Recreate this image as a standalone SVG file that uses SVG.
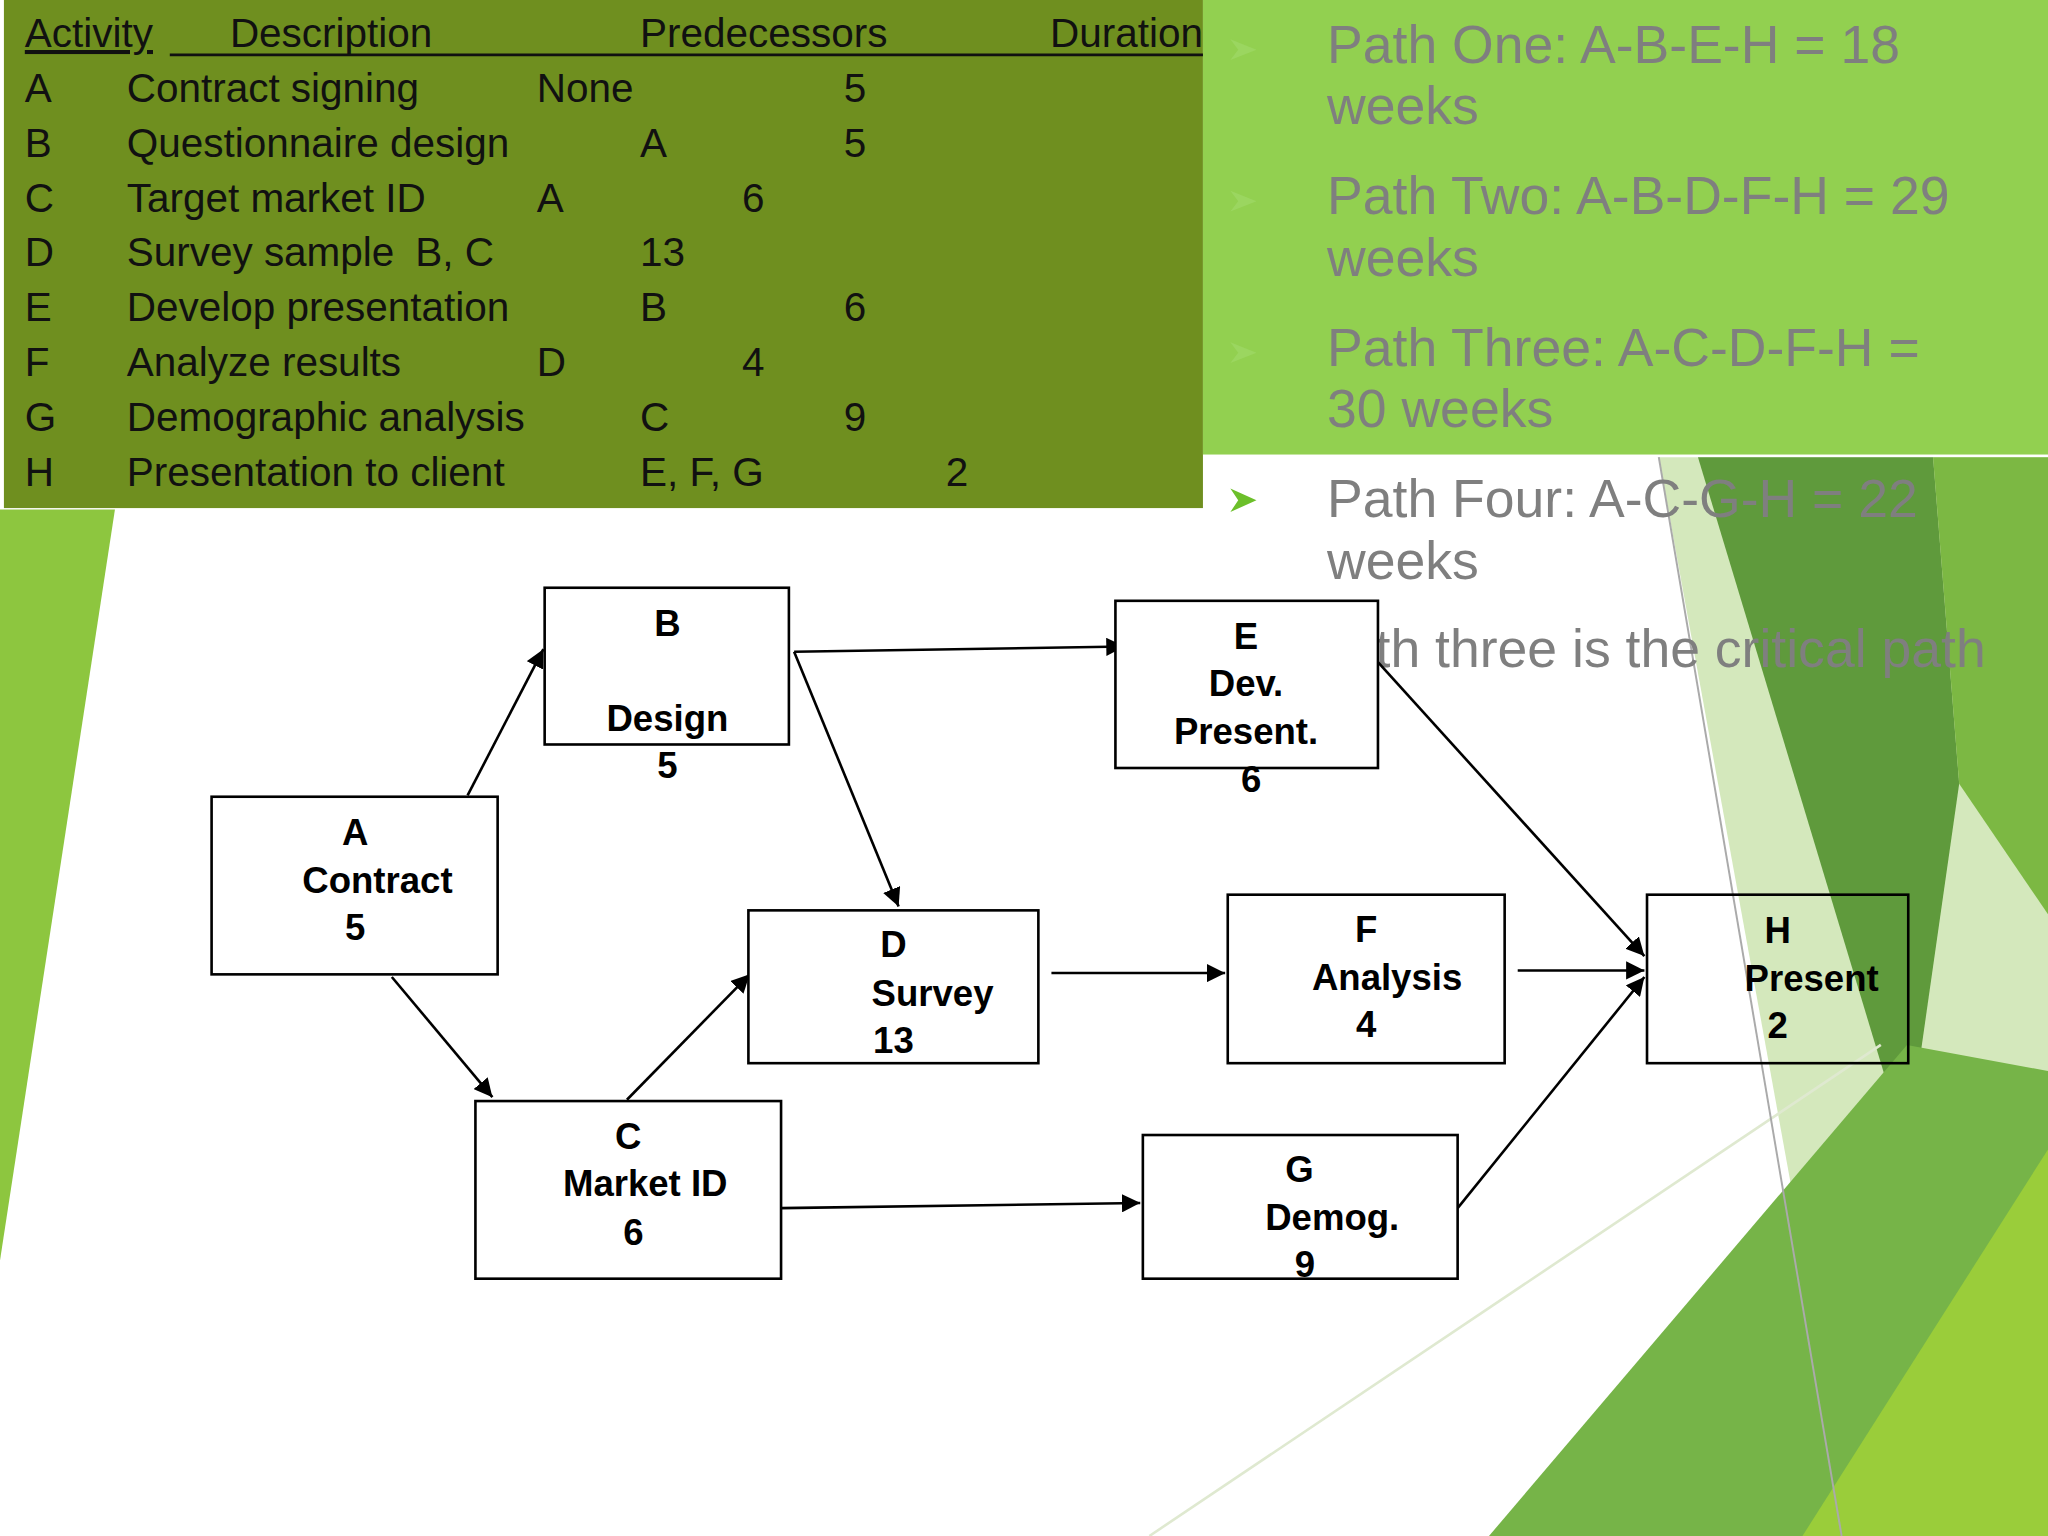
<svg xmlns="http://www.w3.org/2000/svg" width="2048" height="1536" viewBox="0 0 2048 1536">
<defs>
<style>
.t{font-family:"Liberation Sans",Arial,sans-serif;font-size:31px;fill:#111}
.p{font-family:"Liberation Sans",Arial,sans-serif;font-size:41px;fill:#7f7f7f}
.n{font-family:"Liberation Sans",Arial,sans-serif;font-size:28px;font-weight:bold;fill:#000;text-anchor:middle}
.b{fill:#fff;stroke:#000;stroke-width:2}
.c{stroke:#000;stroke-width:2;fill:none;marker-end:url(#ah)}
</style>
<marker id="ah" viewBox="0 0 10 10" refX="10" refY="5" markerWidth="7" markerHeight="7" orient="auto"><path d="M0,0 L10,5 L0,10 z" fill="#000"/></marker>
</defs>
<rect width="2048" height="1536" fill="#fff"/>
<g transform="scale(1.30612)">
<g id="background">
<polygon points="0,390 88,390 0,965" fill="#8dc63f"/>
<polygon points="1270,350 1568,350 1568,1176 1420,1176" fill="#d4e8bc"/>
<polygon points="1300,350 1480,350 1500,600 1460,880" fill="#5f9a3c"/>
<polygon points="1480,350 1568,350 1568,700 1500,600" fill="#7cb843"/>
<polygon points="1140,1176 1460,800 1568,820 1568,1176" fill="#76b448"/>
<polygon points="1380,1176 1568,880 1568,1176" fill="#9acd3a"/>
<line x1="880" y1="1176" x2="1440" y2="800" stroke="#dfe9d0" stroke-width="2"/>
<line x1="1270" y1="350" x2="1410" y2="1176" stroke="#aaa" stroke-width="1.5"/>
<rect x="3" y="0" width="918" height="389" fill="#6f8f1f"/>
<rect x="921" y="0" width="647" height="348" fill="#92d050"/>
</g>
<g id="table">
<text class="t" x="19" y="36" text-decoration="underline">Activity</text>
<text class="t" x="176" y="36">Description</text>
<text class="t" x="490" y="36">Predecessors</text>
<text class="t" x="804" y="36">Duration</text>
<line x1="130" y1="42" x2="921" y2="42" stroke="#111" stroke-width="2"/>
<text class="t" x="19" y="78">A</text><text class="t" x="97" y="78">Contract signing</text><text class="t" x="411" y="78">None</text><text class="t" x="646" y="78">5</text>
<text class="t" x="19" y="120">B</text><text class="t" x="97" y="120">Questionnaire design</text><text class="t" x="490" y="120">A</text><text class="t" x="646" y="120">5</text>
<text class="t" x="19" y="162">C</text><text class="t" x="97" y="162">Target market ID</text><text class="t" x="411" y="162">A</text><text class="t" x="568" y="162">6</text>
<text class="t" x="19" y="204">D</text><text class="t" x="97" y="204">Survey sample</text><text class="t" x="318" y="204">B, C</text><text class="t" x="490" y="204">13</text>
<text class="t" x="19" y="246">E</text><text class="t" x="97" y="246">Develop presentation</text><text class="t" x="490" y="246">B</text><text class="t" x="646" y="246">6</text>
<text class="t" x="19" y="288">F</text><text class="t" x="97" y="288">Analyze results</text><text class="t" x="411" y="288">D</text><text class="t" x="568" y="288">4</text>
<text class="t" x="19" y="330">G</text><text class="t" x="97" y="330">Demographic analysis</text><text class="t" x="490" y="330">C</text><text class="t" x="646" y="330">9</text>
<text class="t" x="19" y="372">H</text><text class="t" x="97" y="372">Presentation to client</text><text class="t" x="490" y="372">E, F, G</text><text class="t" x="724" y="372">2</text>
</g>
<g id="paths">
<g fill="#9bd660"><polygon points="942,30 962,38 942,46 948,38"/><polygon points="942,146 962,154 942,162 948,154"/><polygon points="942,262 962,270 942,278 948,270"/></g>
<polygon points="942,374 962,383 942,392 948,383" fill="#6cbf2a"/>
<text class="p" x="1016" y="48">Path One: A-B-E-H = 18</text><text class="p" x="1016" y="95">weeks</text>
<text class="p" x="1016" y="164">Path Two: A-B-D-F-H = 29</text><text class="p" x="1016" y="211">weeks</text>
<text class="p" x="1016" y="280">Path Three: A-C-D-F-H =</text><text class="p" x="1016" y="327">30 weeks</text>
<text class="p" x="1016" y="396">Path Four: A-C-G-H = 22</text><text class="p" x="1016" y="443">weeks</text>
<text class="p" x="1003" y="511">Path three is the critical path</text>
</g>
<g id="connectors">
<line class="c" x1="358" y1="609" x2="416" y2="497"/>
<line class="c" x1="300" y1="748" x2="377" y2="840"/>
<line class="c" x1="608" y1="499" x2="861" y2="495"/>
<line class="c" x1="608" y1="499" x2="688" y2="694"/>
<line class="c" x1="480" y1="842" x2="574" y2="746"/>
<line class="c" x1="805" y1="745" x2="938" y2="745"/>
<line class="c" x1="598" y1="925" x2="873" y2="921"/>
<line class="c" x1="1055" y1="507" x2="1259" y2="732"/>
<line class="c" x1="1162" y1="743" x2="1259" y2="743"/>
<line class="c" x1="1116" y1="925" x2="1259" y2="748"/>
</g>
<g id="nodeA"><rect class="b" x="162" y="610" width="219" height="136"/><text class="n" x="272" y="647">A</text><text class="n" x="289" y="684">Contract</text><text class="n" x="272" y="720">5</text></g>
<g id="nodeB"><rect class="b" x="417" y="450" width="187" height="120"/><text class="n" x="511" y="487">B</text><text class="n" x="511" y="560">Design</text><text class="n" x="511" y="596">5</text></g>
<g id="nodeC"><rect class="b" x="364" y="843" width="234" height="136"/><text class="n" x="481" y="880">C</text><text class="n" x="494" y="916">Market ID</text><text class="n" x="485" y="953">6</text></g>
<g id="nodeD"><rect class="b" x="573" y="697" width="222" height="117"/><text class="n" x="684" y="733">D</text><text class="n" x="714" y="770">Survey</text><text class="n" x="684" y="806">13</text></g>
<g id="nodeE"><rect class="b" x="854" y="460" width="201" height="128"/><text class="n" x="954" y="497">E</text><text class="n" x="954" y="533">Dev.</text><text class="n" x="954" y="570">Present.</text><text class="n" x="958" y="606">6</text></g>
<g id="nodeF"><rect class="b" x="940" y="685" width="212" height="129"/><text class="n" x="1046" y="721">F</text><text class="n" x="1062" y="758">Analysis</text><text class="n" x="1046" y="794">4</text></g>
<g id="nodeG"><rect class="b" x="875" y="869" width="241" height="110"/><text class="n" x="995" y="905">G</text><text class="n" x="1020" y="942">Demog.</text><text class="n" x="999" y="978">9</text></g>
<g id="nodeH"><rect x="1261" y="685" width="200" height="129" fill="none" stroke="#000" stroke-width="2"/><text class="n" x="1361" y="722">H</text><text class="n" x="1387" y="759">Present</text><text class="n" x="1361" y="795">2</text></g>
</g>
</svg>
